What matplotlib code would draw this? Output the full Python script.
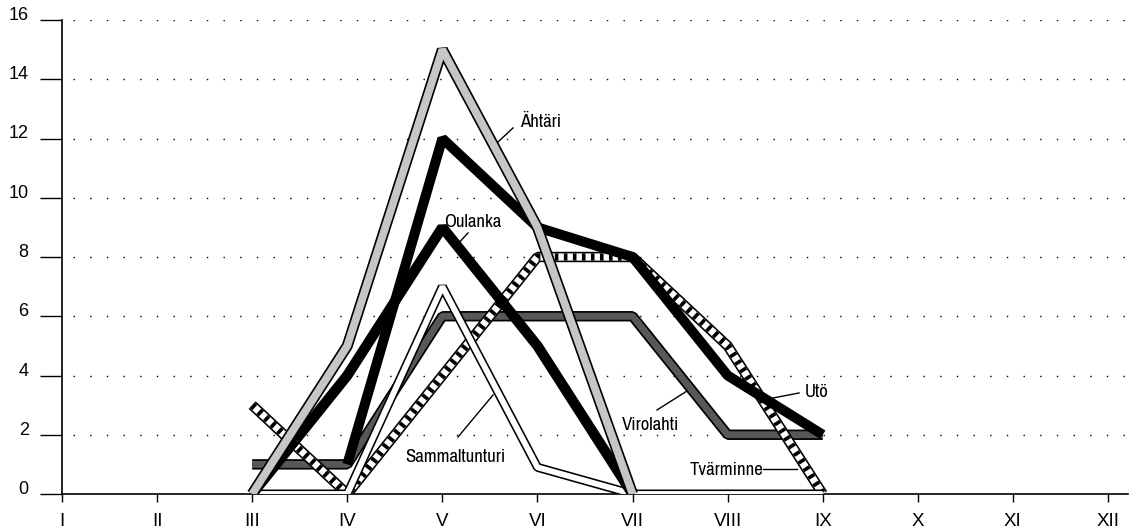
import numpy as np
import matplotlib
matplotlib.use("Agg")
import matplotlib.pyplot as plt

nan = np.nan
months = ['I', 'II', 'III', 'IV', 'V', 'VI', 'VII', 'VIII', 'IX', 'X', 'XI', 'XII']
x = np.arange(1, 13)

ahtari        = [nan, nan, 0, 5, 15, 9, 0, nan, nan, nan, nan, nan]
oulanka       = [nan, nan, 0, 4, 9, 5, 0, nan, nan, nan, nan, nan]
uto           = [nan, nan, nan, 1, 12, 9, 8, 4, 2, nan, nan, nan]
virolahti     = [nan, nan, 1, 1, 6, 6, 6, 2, 2, nan, nan, nan]
tvarminne     = [nan, nan, 3, 0, 4, 8, 8, 5, 0, nan, nan, nan]
sammaltunturi = [nan, nan, 0, 0, 7, 0.9, 0, 0, 0, nan, nan, nan]

yticks = list(range(0, 17, 2))

W, H = 1131, 531
fig = plt.figure(figsize=(W / 100, H / 100), dpi=100)
ax = fig.add_axes([62 / W, 37 / H, (1128 - 62) / W, (494 - 20) / H])
ax.set_xlim(1, 12.21)
ax.set_ylim(0, 16)

for s in ['top', 'right']:
    ax.spines[s].set_visible(False)
ax.spines['left'].set_linewidth(1.2)
ax.spines['bottom'].set_linewidth(1.2)

ax.set_yticks(yticks)
ax.set_yticklabels([str(v) for v in yticks])
ax.set_xticks(x)
ax.set_xticklabels(months)
ax.tick_params(axis='y', direction='out', length=16, width=1.0, pad=8, labelsize=13)
ax.tick_params(axis='x', direction='out', length=6, width=1.0, pad=7.5, labelsize=13.5)
for lab in ax.get_xticklabels() + ax.get_yticklabels():
    lab.set_family(['Liberation Sans', 'DejaVu Sans'])
for lab in ax.get_yticklabels():
    lab.set_va('baseline')

for v in yticks[1:]:
    ax.axhline(v, xmin=0.01, xmax=1.0, color='black', lw=1.0,
               ls=(0, (1, 11)), zorder=1)

kw = dict(solid_joinstyle='bevel', solid_capstyle='butt',
          dash_joinstyle='bevel', dash_capstyle='butt')

def layered(y, layers, z):
    for i, (col, lw, ls) in enumerate(layers):
        ax.plot(x, y, color=col, lw=lw, ls=ls, zorder=z + i * 0.01, **kw)

# bottom -> top
layered(virolahti, [('black', 7.5, '-'), ('#585858', 5.0, '-')], 2)
layered(tvarminne, [('black', 7.5, '-'), ('white', 5.2, '-'),
                    ('black', 5.2, (0, (0.5, 0.75)))], 3)
layered(sammaltunturi, [('black', 6.5, '-'), ('white', 4.2, '-')], 4)
layered(uto, [('black', 7.2, '-')], 5)
layered(oulanka, [('black', 7.5, '-')], 6)
layered(ahtari, [('black', 8.0, '-'), ('#c6c6c6', 5.6, '-')], 7)

# labels with leader lines (pixel coordinates -> data)
def px(xp, yp):
    return (1 + (xp - 62) / 95.09, (494 - yp) / 29.62)

lab_font = dict(family=['Archivo Narrow', 'Barlow Condensed', 'Liberation Sans', 'DejaVu Sans'],
                fontsize=13.5, color='black', zorder=20)

def label(text, tx, ty, leader):
    ax.text(*px(tx, ty), text, ha='left', va='baseline', **lab_font)
    (x0, y0), (x1, y1) = px(*leader[0]), px(*leader[1])
    ax.plot([x0, x1], [y0, y1], color='black', lw=1.0, zorder=19)

label('Ähtäri', 520, 127, [(513, 128), (498, 142)])
label('Oulanka', 444, 227, [(468, 233), (455, 247)])
label('Sammaltunturi', 405, 462, [(458, 437), (493, 395)])
label('Virolahti', 622, 430, [(657, 410), (687, 391)])
label('Utö', 805, 397, [(799, 393), (773, 398)])
label('Tvärminne', 690, 475, [(763, 469), (797, 469)])

fig.savefig('out.png', dpi=100)
